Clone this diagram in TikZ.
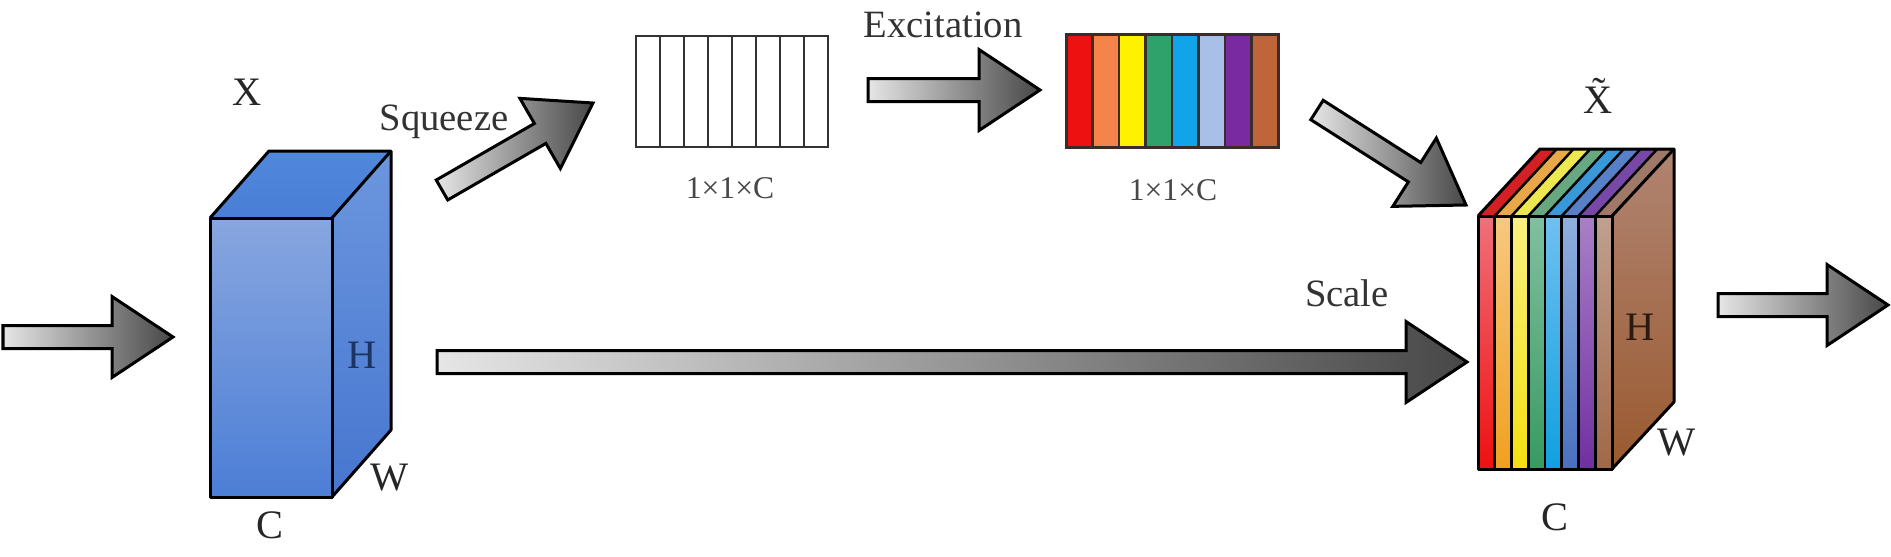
\documentclass[tikz,border=0pt]{standalone}
\usepackage{fontspec}
\setmainfont{Liberation Serif}
\usetikzlibrary{calc}
% front stripe colours (top / bottom) and top-face colours
\definecolor{fr1}{HTML}{F0707A}\definecolor{fb1}{HTML}{EE1010}\definecolor{tp1}{HTML}{D42025}
\definecolor{fr2}{HTML}{F8C880}\definecolor{fb2}{HTML}{F0A020}\definecolor{tp2}{HTML}{E8A848}
\definecolor{fr3}{HTML}{F8F080}\definecolor{fb3}{HTML}{F4E010}\definecolor{tp3}{HTML}{EEE850}
\definecolor{fr4}{HTML}{80C0A0}\definecolor{fb4}{HTML}{389A60}\definecolor{tp4}{HTML}{68A880}
\definecolor{fr5}{HTML}{70C0F0}\definecolor{fb5}{HTML}{10A0E0}\definecolor{tp5}{HTML}{3898D8}
\definecolor{fr6}{HTML}{90B0E0}\definecolor{fb6}{HTML}{4A70C0}\definecolor{tp6}{HTML}{5880C8}
\definecolor{fr7}{HTML}{A880C8}\definecolor{fb7}{HTML}{7030A0}\definecolor{tp7}{HTML}{7848A8}
\definecolor{fr8}{HTML}{C0A090}\definecolor{fb8}{HTML}{A06848}\definecolor{tp8}{HTML}{A07868}
% 1x1xC colour bar
\definecolor{cb1}{HTML}{EE1111}\definecolor{cb2}{HTML}{F5844A}\definecolor{cb3}{HTML}{FFF200}
\definecolor{cb4}{HTML}{2EA26A}\definecolor{cb5}{HTML}{12A4E8}\definecolor{cb6}{HTML}{A8C0E8}
\definecolor{cb7}{HTML}{7A2AA0}\definecolor{cb8}{HTML}{C0643A}
\definecolor{barline}{HTML}{3B2B2B}
\definecolor{blueA}{HTML}{88A6DF}\definecolor{blueB}{HTML}{4C7ED6}
\definecolor{blueTop}{HTML}{5088DC}\definecolor{blueTopB}{HTML}{4A7ED6}
\definecolor{blueR}{HTML}{6C96DE}\definecolor{blueRB}{HTML}{4676CF}
\definecolor{brownA}{HTML}{B08472}\definecolor{brownB}{HTML}{9A5A30}
\definecolor{hblue}{HTML}{1E3460}
\definecolor{hbrown}{HTML}{2A1A10}
\newcommand\fatarrow[2]{%
  \coordinate (fahb) at ($(#2)!12.2mm!(#1)$);
  \shadedraw[fatarrowsty] ($(#1)!2.3mm!90:(#2)$) -- ($(fahb)!2.3mm!90:(#2)$)
    -- ($(fahb)!8.1mm!90:(#2)$) -- (#2) -- ($(fahb)!8.1mm!-90:(#2)$)
    -- ($(fahb)!2.3mm!-90:(#2)$) -- ($(#1)!2.3mm!-90:(#2)$) -- cycle;}
\begin{document}
\begin{tikzpicture}[x=0.2mm,y=-0.2mm,
  lab/.style={font=\fontsize{23}{23}\selectfont, text=black!85, inner sep=0pt},
  caplab/.style={font=\fontsize{22}{22}\selectfont, text=black!80, inner sep=0pt},
  dimlab/.style={font=\fontsize{18}{18}\selectfont, text=black!72, inner sep=0pt},
  fatarrowsty/.style={draw=black, line width=0.6mm, line join=miter, left color=black!10, right color=black!72},
  edge/.style={draw=black, line width=0.6mm, line join=round}]
\useasboundingbox[fill=white] (0,0) rectangle (1891,556);

% ---------- input cube X ----------
\shade[top color=blueA, bottom color=blueB] (210,218) rectangle (332,497);
\shade[top color=blueTop, bottom color=blueTopB] (210,218) -- (269,151) -- (391,151) -- (332,218) -- cycle;
\shade[top color=blueR, bottom color=blueRB] (332,218) -- (391,151) -- (391,430) -- (332,497) -- cycle;
\draw[edge] (210,218) rectangle (332,497);
\draw[edge] (210,218) -- (269,151) -- (391,151) -- (391,430) -- (332,497);
\draw[edge] (332,218) -- (391,151);
\node[lab] (lx) at (247,92) {X};
\node[lab, text=hblue] (lh) at (362,355) {H};
\node[lab] (lw) at (390,478) {W};
\node[lab] (lc) at (270,525) {C};

% ---------- squeezed vector 1x1xC ----------
\draw[draw=black!80, line width=0.5mm] (636,36) rectangle (828,147);
\foreach \i in {1,...,7} \draw[draw=black!80, line width=0.5mm] ({636+\i*24},36) -- ({636+\i*24},147);
\node[dimlab] (sqlab) at (730,188) {1×1×C};

% ---------- excited vector 1x1xC ----------
\foreach \i in {1,...,8} \fill[cb\i] ({1066+(\i-1)*26.5},34) rectangle ({1066+\i*26.5},147);
\foreach \i in {1,...,7} \draw[draw=barline, line width=0.55mm] ({1066+\i*26.5},34) -- ({1066+\i*26.5},147);
\draw[draw=barline, line width=0.6mm] (1066,34) rectangle (1278,147);
\node[dimlab] (exlab) at (1173,190) {1×1×C};

% ---------- output cube X~ ----------
\foreach \i in {1,...,8} {
  \shade[top color=fr\i, bottom color=fb\i] ({1478+(\i-1)*16.75},216) rectangle ({1478+\i*16.75},469);
  \fill[tp\i] ({1478+(\i-1)*16.75},216) -- ++(62,-67) -- ++(16.75,0) -- ({1478+\i*16.75},216) -- cycle;
}
\foreach \i in {1,...,7} {
  \draw[line width=0.55mm] ({1478+\i*16.75},216) -- ({1478+\i*16.75},469);
  \draw[line width=0.5mm] ({1478+\i*16.75},216) -- ++(62,-67);
}
\shade[top color=brownA, bottom color=brownB] (1612,216) -- (1674,149) -- (1674,402) -- (1612,469) -- cycle;
\draw[edge] (1478,216) rectangle (1612,469);
\draw[edge] (1478,216) -- (1540,149) -- (1674,149) -- (1674,402) -- (1612,469);
\draw[edge] (1612,216) -- (1674,149);
\node[lab, anchor=base] (lxt) at (1598,113) {\~{X}};
\node[lab, text=hbrown] (lh2) at (1640,327) {H};
\node[lab] (lw2) at (1677,443) {W};
\node[lab] (lc2) at (1555,517) {C};

% ---------- arrows ----------
\coordinate (inT) at (3,337);   \coordinate (inH) at (173,337);
\coordinate (sqT) at (442,190); \coordinate (sqH) at (593,103);
\coordinate (exT) at (868,90);  \coordinate (exH) at (1040,90);
\coordinate (dgT) at (1317,110);\coordinate (dgH) at (1466,205);
\coordinate (scT) at (437,362); \coordinate (scH) at (1467,362);
\coordinate (ouT) at (1718,305);\coordinate (ouH) at (1888,305);
\fatarrow{inT}{inH}
\fatarrow{sqT}{sqH}
\fatarrow{exT}{exH}
\fatarrow{dgT}{dgH}
\fatarrow{scT}{scH}
\fatarrow{ouT}{ouH}

\node[caplab] (lsq) at (444,122) {Squeeze};
\node[caplab] (lex) at (943,25) {Excitation};
\node[caplab] (lsc) at (1347,293) {Scale};
\end{tikzpicture}
\end{document}
